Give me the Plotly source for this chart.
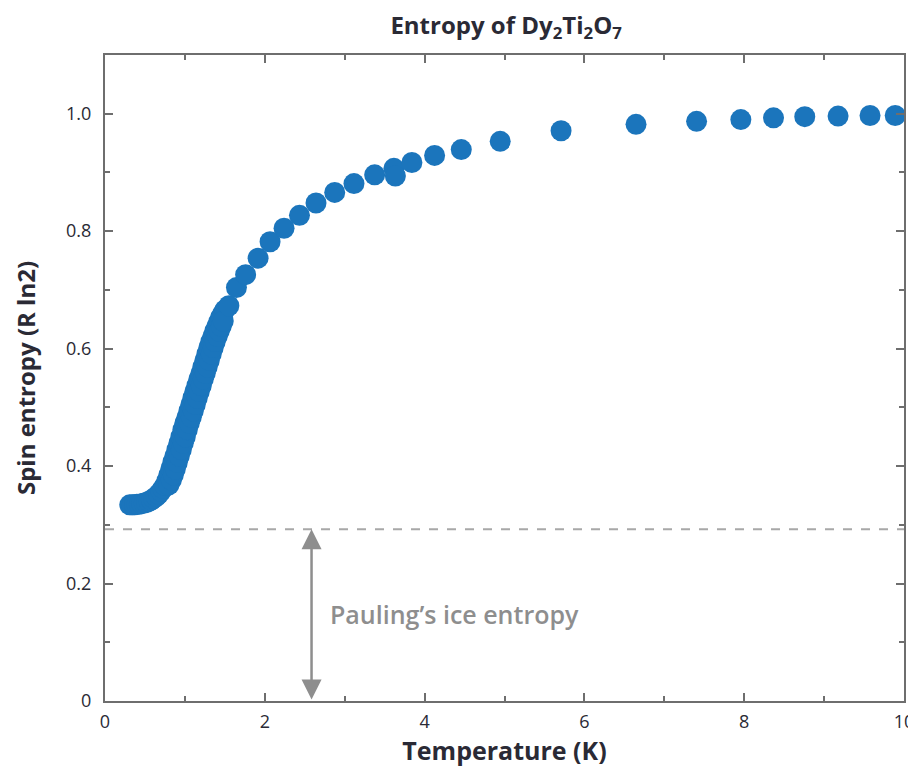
import plotly.graph_objects as go

# Low-temperature dense data (main run)
t_low = [0.31, 0.34, 0.37, 0.40, 0.43, 0.46, 0.49, 0.52, 0.55, 0.58, 0.61, 0.64, 0.67, 0.70, 0.725,
         0.75, 0.775, 0.80, 0.825, 0.85, 0.875, 0.90, 0.925, 0.95, 0.975, 1.00, 1.025, 1.05, 1.075,
         1.10, 1.125, 1.15, 1.175, 1.20, 1.225, 1.25, 1.275, 1.30, 1.325, 1.35, 1.375, 1.40, 1.425,
         1.45, 1.475, 1.50]
s_low = [0.334, 0.334, 0.334, 0.335, 0.335, 0.336, 0.337, 0.338, 0.340, 0.342, 0.345, 0.348, 0.352,
         0.357, 0.362, 0.367, 0.375, 0.385, 0.396, 0.407, 0.417, 0.428, 0.439, 0.450, 0.462, 0.473,
         0.483, 0.494, 0.505, 0.516, 0.527, 0.537, 0.548, 0.558, 0.569, 0.580, 0.591, 0.602, 0.612,
         0.621, 0.630, 0.638, 0.646, 0.654, 0.660, 0.666]
# Second overlapping run in the steep part
t_low2 = [0.80, 0.83, 0.855, 0.88, 0.905, 0.93, 0.955, 0.98, 1.005, 1.03, 1.055, 1.08, 1.105, 1.13,
          1.155, 1.18, 1.205, 1.23, 1.255, 1.28, 1.305, 1.33, 1.355, 1.38, 1.405, 1.43, 1.455, 1.48]
s_low2 = [0.368, 0.376, 0.385, 0.395, 0.406, 0.417, 0.428, 0.439, 0.450, 0.462, 0.473, 0.483, 0.494,
          0.505, 0.516, 0.527, 0.537, 0.548, 0.558, 0.569, 0.580, 0.591, 0.602, 0.612, 0.621, 0.630,
          0.638, 0.647]
# Higher-temperature sparse data
t_high = [1.55, 1.645, 1.76, 1.916, 2.066, 2.241, 2.434, 2.641, 2.875, 3.116, 3.375, 3.616, 3.634,
          3.841, 4.125, 4.459, 4.946, 5.708, 6.646, 7.404, 7.958, 8.367, 8.758, 9.175, 9.575, 9.89]
s_high = [0.673, 0.704, 0.726, 0.754, 0.782, 0.805, 0.827, 0.848, 0.866, 0.881, 0.896, 0.907, 0.894,
          0.917, 0.929, 0.939, 0.953, 0.971, 0.982, 0.987, 0.990, 0.993, 0.995, 0.996, 0.997, 0.997]

pauling = 0.2925
arrow_t = 2.585

x_ticks = [0, 2, 4, 6, 8, 10]
x_ticktext = ["0", "2", "4", "6", "8", "10"]
y_ticks = [0, 0.2, 0.4, 0.6, 0.8, 1.0]
y_ticktext = ["0", "0.2", "0.4", "0.6", "0.8", "1.0"]

blue = "#1b75bc"
gray_axis = "#6e6e6e"
font_fam = "'Open Sans', 'Noto Sans', sans-serif"
text_dark = "#2a2a35"

fig = go.Figure()
marker = dict(color=blue, size=21, line=dict(width=0))
fig.add_trace(go.Scatter(x=t_low, y=s_low, mode="markers", marker=marker, showlegend=False, cliponaxis=True))
fig.add_trace(go.Scatter(x=t_low2, y=s_low2, mode="markers", marker=marker, showlegend=False, cliponaxis=True))
fig.add_trace(go.Scatter(x=t_high, y=s_high, mode="markers", marker=marker, showlegend=False, cliponaxis=True))

fig.add_shape(type="line", xref="x", yref="y", x0=0, x1=10, y0=pauling, y1=pauling,
              line=dict(color="#a8a8a8", width=2, dash="dash"), layer="below")

fig.add_annotation(x=arrow_t, y=pauling, ax=arrow_t, ay=0, xref="x", yref="y", axref="x", ayref="y",
                   text="", showarrow=True, arrowside="end+start", arrowhead=2, startarrowhead=2,
                   arrowsize=1.6, startarrowsize=1.6, arrowwidth=2.5, arrowcolor="#8e8e8e")
fig.add_annotation(x=2.79, y=0.1475, xref="x", yref="y", text="Pauling’s ice entropy",
                   showarrow=False, xanchor="left", yanchor="middle",
                   font=dict(family=font_fam, size=25, color="#8e8e8e", weight=600))

# page body has an 8px margin: compensate so the plot area sits where the reference has it
fig.update_layout(
    width=908, height=759,
    margin=dict(l=97, r=11.5, t=47, b=65.5, autoexpand=False),
    plot_bgcolor="white", paper_bgcolor="white",
    title=dict(text="Entropy of Dy<sub>2</sub>Ti<sub>2</sub>O<sub>7</sub>", x=0.5486, xanchor="center",
               y=0.977, yanchor="middle",
               font=dict(family=font_fam, size=24, color=text_dark, weight="bold")),
    font=dict(family=font_fam, color=text_dark),
)
fig.update_xaxes(range=[0, 10], tickvals=x_ticks, ticktext=x_ticktext, ticks="inside", ticklen=8,
                 tickwidth=2, tickcolor=gray_axis, showline=True, linecolor=gray_axis, linewidth=2,
                 mirror="ticks", showgrid=False, zeroline=False, automargin=False,
                 ticklabelstandoff=3,
                 minor=dict(ticks="inside", ticklen=5, tickwidth=2, tickcolor=gray_axis, dtick=1, tick0=0, showgrid=False),
                 tickfont=dict(size=18, color=text_dark),
                 title=dict(text="Temperature (K)", font=dict(size=25, weight="bold"), standoff=12))
fig.update_yaxes(range=[0, 1.1], tickvals=y_ticks, ticktext=y_ticktext, ticks="inside", ticklen=8,
                 tickwidth=2, tickcolor=gray_axis, showline=True, linecolor=gray_axis, linewidth=2,
                 mirror="ticks", showgrid=False, zeroline=False, automargin=False,
                 ticklabelstandoff=8,
                 minor=dict(ticks="inside", ticklen=5, tickwidth=2, tickcolor=gray_axis, dtick=0.1, tick0=0, showgrid=False),
                 tickfont=dict(size=18, color=text_dark),
                 title=dict(text="Spin entropy (R ln2)", font=dict(size=24, weight="bold"), standoff=24))

fig.write_html("out.html")
